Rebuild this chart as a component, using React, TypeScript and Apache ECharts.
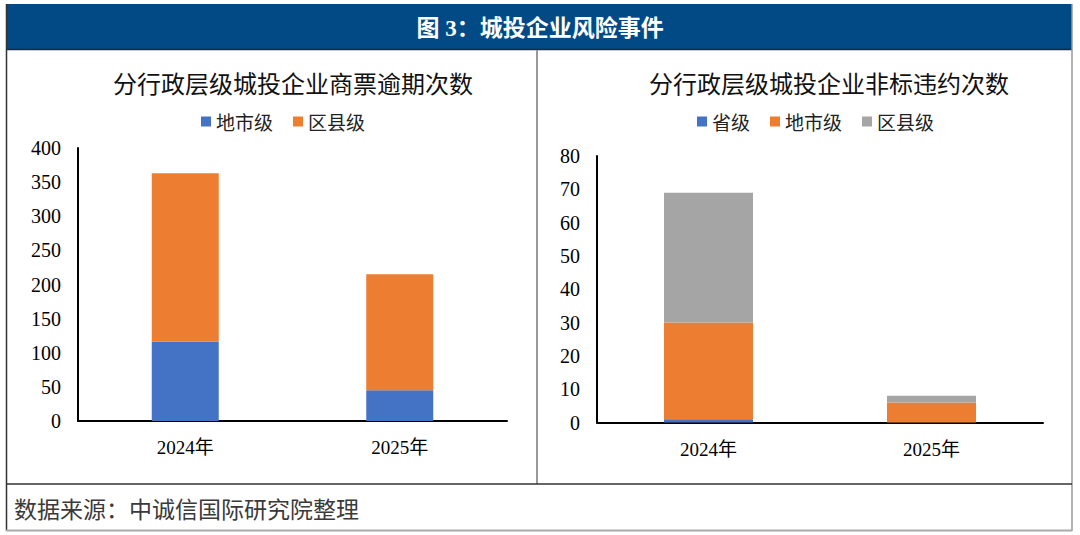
import React, { useEffect, useRef } from "react";
import * as echarts from "echarts";

const headerTitle = "图 3：城投企业风险事件";
const leftTitle = "分行政层级城投企业商票逾期次数";
const rightTitle = "分行政层级城投企业非标违约次数";
const sourceText = "数据来源：中诚信国际研究院整理";

const years = ["2024年", "2025年"];

const leftSeriesNames = ["地市级", "区县级"];
const leftCity = [116, 45];
const leftCounty = [247, 170];

const rightSeriesNames = ["省级", "地市级", "区县级"];
const rightProvince = [1, 0];
const rightCity = [29, 6];
const rightCounty = [39, 2];

const BLUE = "#4472C4";
const ORANGE = "#ED7D31";
const GRAY = "#A5A5A5";
const NAVY = "#024a86";

const SERIF = "'Liberation Serif', 'Noto Sans CJK SC', serif";
const CJK = "'Noto Sans CJK SC', sans-serif";

function axisCommon(min: number, max: number, interval: number) {
  return {
    type: "value",
    min,
    max,
    interval,
    axisLine: { show: true, lineStyle: { color: "#000", width: 2 } },
    axisTick: { show: false },
    splitLine: { show: false },
    axisLabel: { color: "#000", fontSize: 20, fontFamily: SERIF, margin: 17 },
  };
}

function catAxis() {
  return {
    type: "category",
    data: years,
    axisLine: { show: true, lineStyle: { color: "#000", width: 2 } },
    axisTick: { show: false },
    axisLabel: { color: "#000", fontSize: 19, fontFamily: SERIF, margin: 17 },
  };
}

function legendCommon(left: number, names: string[]) {
  return {
    left,
    top: 107,
    itemWidth: 10,
    itemHeight: 10,
    itemGap: 20,
    icon: "rect",
    data: names,
    textStyle: { fontSize: 19, fontFamily: CJK, color: "#222" },
  };
}

function leftOption(): any {
  return {
    animation: false,
    graphic: [
      { type: "rect", shape: { x: 6, y: 4, width: 1066, height: 46 }, style: { fill: NAVY } },
      { type: "line", shape: { x1: 6, y1: 49.5, x2: 1072, y2: 49.5 }, style: { stroke: "#1a2a40", lineWidth: 1.5 } },
      { type: "line", shape: { x1: 6.5, y1: 4, x2: 6.5, y2: 531 }, style: { stroke: "#333", lineWidth: 1.5 } },
      { type: "line", shape: { x1: 1072, y1: 4, x2: 1072, y2: 531 }, style: { stroke: "#999", lineWidth: 1.5 } },
      { type: "line", shape: { x1: 537, y1: 50, x2: 537, y2: 484 }, style: { stroke: "#999", lineWidth: 2 } },
      { type: "line", shape: { x1: 6, y1: 484, x2: 1072, y2: 484 }, style: { stroke: "#333", lineWidth: 1.5 } },
      { type: "line", shape: { x1: 6, y1: 530.5, x2: 1072, y2: 530.5 }, style: { stroke: "#aaa", lineWidth: 2 } },
      {
        type: "text",
        x: 540,
        y: 28,
        style: {
          text: headerTitle,
          fill: "#fff",
          fontSize: 23,
          fontWeight: "bold",
          fontFamily: SERIF,
          textAlign: "center",
          textVerticalAlign: "middle",
        },
      },
      {
        type: "text",
        x: 293,
        y: 82,
        style: {
          text: leftTitle,
          fill: "#111",
          fontSize: 24,
          fontFamily: CJK,
          textAlign: "center",
          textVerticalAlign: "middle",
        },
      },
      {
        type: "text",
        x: 14,
        y: 508,
        style: {
          text: sourceText,
          fill: "#3a3a3a",
          fontSize: 23,
          fontFamily: CJK,
          textAlign: "left",
          textVerticalAlign: "middle",
        },
      },
    ],
    legend: legendCommon(196, leftSeriesNames),
    grid: { left: 78, right: 573, top: 148, bottom: 114, containLabel: false },
    xAxis: catAxis(),
    yAxis: axisCommon(0, 400, 50),
    series: [
      { name: leftSeriesNames[0], type: "bar", stack: "a", data: leftCity, barWidth: 67, itemStyle: { color: BLUE } },
      { name: leftSeriesNames[1], type: "bar", stack: "a", data: leftCounty, barWidth: 67, itemStyle: { color: ORANGE } },
    ],
  };
}

function rightOption(): any {
  return {
    animation: false,
    graphic: [
      {
        type: "text",
        x: 829,
        y: 82,
        style: {
          text: rightTitle,
          fill: "#111",
          fontSize: 24,
          fontFamily: CJK,
          textAlign: "center",
          textVerticalAlign: "middle",
        },
      },
    ],
    legend: legendCommon(692, rightSeriesNames),
    grid: { left: 597, right: 37, top: 156, bottom: 112.5, containLabel: false },
    xAxis: catAxis(),
    yAxis: axisCommon(0, 80, 10),
    series: [
      { name: rightSeriesNames[0], type: "bar", stack: "b", data: rightProvince, barWidth: 89, itemStyle: { color: BLUE } },
      { name: rightSeriesNames[1], type: "bar", stack: "b", data: rightCity, barWidth: 89, itemStyle: { color: ORANGE } },
      { name: rightSeriesNames[2], type: "bar", stack: "b", data: rightCounty, barWidth: 89, itemStyle: { color: GRAY } },
    ],
  };
}

function Chart({ option }: { option: any }) {
  const ref = useRef<HTMLDivElement>(null);
  useEffect(() => {
    if (!ref.current) return;
    const chart = echarts.init(ref.current, undefined, { renderer: "svg" });
    chart.setOption(option);
    return () => chart.dispose();
  }, []);
  return (
    <div
      ref={ref}
      style={{ position: "absolute", left: 0, top: 0, width: 1080, height: 535 }}
    />
  );
}

export default function App() {
  return (
    <div style={{ position: "fixed", left: 0, top: 0, width: 1080, height: 535, background: "#fff" }}>
      <Chart option={leftOption()} />
      <Chart option={rightOption()} />
    </div>
  );
}
